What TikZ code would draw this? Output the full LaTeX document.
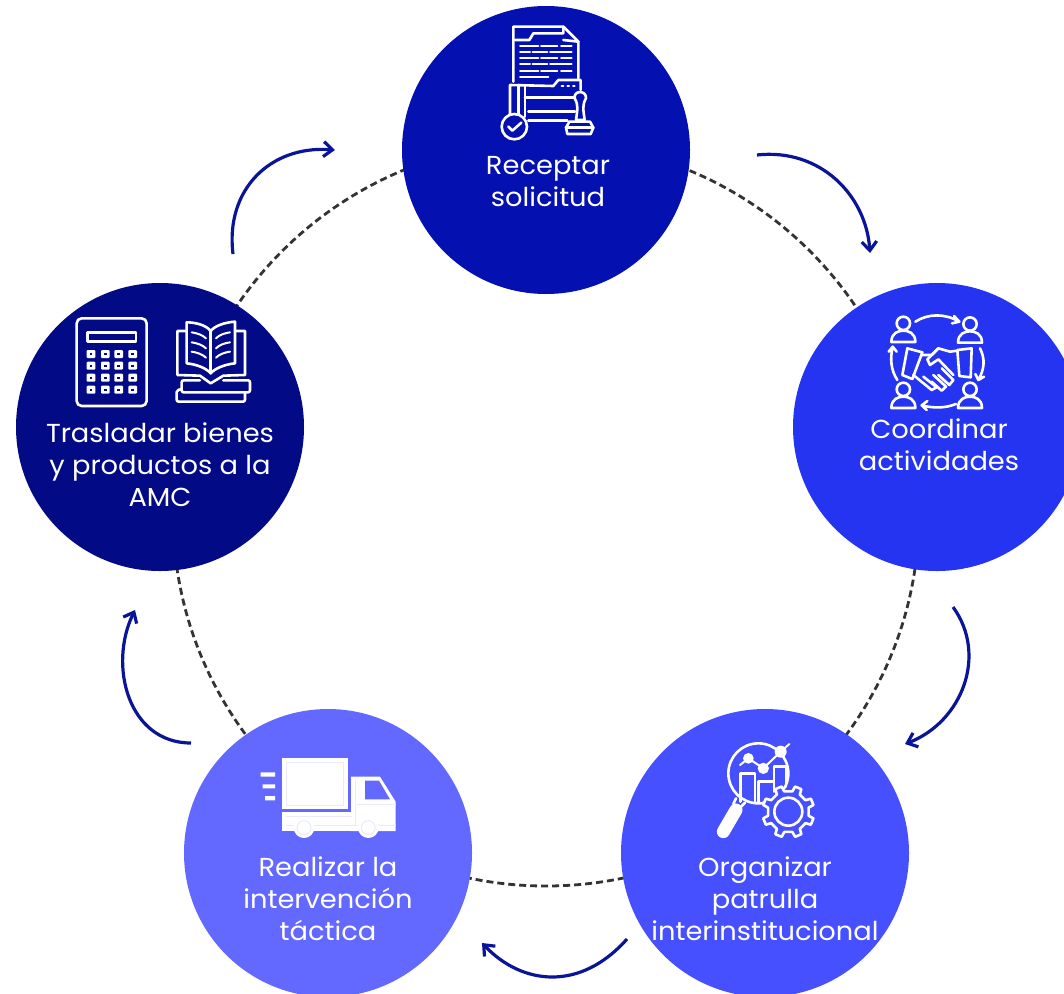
\documentclass[tikz,border=0pt]{standalone}
\usepackage{fontspec}
\setmainfont[FakeStretch=1.05]{Poppins}
\usetikzlibrary{arrows.meta}
\definecolor{cA}{HTML}{0410B0}
\definecolor{cB}{HTML}{2434F0}
\definecolor{cC}{HTML}{4650FF}
\definecolor{cD}{HTML}{6368FF}
\definecolor{cE}{HTML}{030A85}
\definecolor{cArrow}{HTML}{0A1496}
\definecolor{cDash}{HTML}{333333}
\tikzset{
  disc/.style={circle,minimum size=288pt,inner sep=0pt,draw=none},
  lbl/.style={text=white,align=center,font=\fontsize{26}{32}\selectfont},
  flow/.style={draw=cArrow,line width=3.2pt,-{Straight Barb[length=9pt,width=15pt,line width=3.2pt]}},
  ring/.style={draw=cDash,line width=2.8pt,dash pattern=on 7pt off 4pt},
  ico/.style={draw=white,line width=2.6pt,line join=round,line cap=round},
  thin ico/.style={draw=white,line width=2pt,line join=round,line cap=round},
  icon scale/.style={shift={#1},scale=1/3},
}
\begin{document}
\begin{tikzpicture}[x=1pt,y=-1pt]
\useasboundingbox (0,0) rectangle (1064,993);
\clip (0,0) rectangle (1064,993);
\coordinate (hub) at (546,514);
\draw[ring] (hub) ellipse[x radius=373,y radius=372];
\node[disc,fill=cA] (n1) at (546,150) {};
\node[disc,fill=cB] (n2) at (937,427) {};
\node[disc,fill=cC] (n3) at (765,853) {};
\node[disc,fill=cD] (n4) at (328,853) {};
\node[disc,fill=cE] (n5) at (160,427) {};
\node[lbl] (t1) at (548,182) {Receptar\\solicitud};
\node[lbl] (t2) at (939,445) {Coordinar\\actividades};
\node[lbl] (t3) at (765,899) {Organizar\\patrulla\\interinstitucional};
\node[lbl] (t4) at (328,899) {Realizar la\\intervención\\táctica};
\node[lbl] (t5) at (160,465) {Trasladar bienes\\y productos a la\\AMC};
% connectors
\coordinate (a1s) at (757,155); \coordinate (a1e) at (870,253);
\coordinate (a2s) at (953,607); \coordinate (a2e) at (905,744);
\coordinate (a3s) at (627,939); \coordinate (a3e) at (482,943);
\coordinate (a4s) at (191,743); \coordinate (a4e) at (135,610);
\coordinate (a5s) at (233,254); \coordinate (a5e) at (335,150);
\draw[flow] (a1s) .. controls (820,148) and (866,195) .. (a1e);
\draw[flow] (a2s) .. controls (988,655) and (962,722) .. (a2e);
\draw[flow] (a3s) .. controls (580,992) and (522,985) .. (a3e);
\draw[flow] (a4s) .. controls (128,743) and (108,665) .. (a4e);
\draw[flow] (a5s) .. controls (225,190) and (270,145) .. (a5e);
% icon 1: document and stamp
\begin{scope}[icon scale={(480,10)}]
\draw[ico] (100,215) -- (100,50) -- (250,50) -- (295,95) -- (295,205);
\draw[ico] (105,90) -- (148,90) -- (160,70) -- (250,70) -- (250,50) (250,90) -- (295,95);
\foreach \y in {108,145,183}{\draw[thin ico] (120,\y) -- (175,\y) (183,\y) -- (232,\y) (243,\y) -- (275,\y);}
\foreach \y in {127,163}{\draw[thin ico] (120,\y) -- (150,\y) (158,\y) -- (202,\y) (210,\y) -- (275,\y);}
\draw[thin ico] (120,202) -- (205,202);
\draw[ico] (90,325) -- (90,225) -- (220,228) -- (235,210) -- (302,210) -- (302,240);
\draw[ico] (115,225) -- (115,315) (135,225) -- (135,320);
\draw[ico] (135,262) -- (285,262) (145,305) -- (285,305) (145,332) -- (262,332);
\draw[thin ico] (245,229) -- (250,229) (262,229) -- (267,229) (279,229) -- (284,229);
\draw[ico,fill=cA] (103,350) circle[radius=38];
\draw[ico] (85,350) -- (97,362) -- (124,338);
\draw[ico,fill=cA] (288,330) .. controls (292,300) and (296,285) .. (284,265) .. controls (280,240) and (320,240) .. (318,265) .. controls (306,285) and (310,300) .. (314,330) -- cycle;
\draw[ico,fill=cA] (268,335) -- (330,335) -- (340,353) -- (332,372) -- (262,372) -- (258,353) -- cycle;
\draw[ico] (258,353) -- (340,353);
\end{scope}
% icon 2: handshake
\begin{scope}[icon scale={(870,300)}]
\foreach \x/\y in {100/70,300/72,100/268,300/268}{
  \draw[ico] (\x,\y) circle[radius=20];
  \draw[ico] (\x-36,\y+56) .. controls (\x-36,\y+28) and (\x-14,\y+22) .. (\x,\y+22) .. controls (\x+14,\y+22) and (\x+36,\y+28) .. (\x+36,\y+56) -- cycle;
}
\draw[ico] (136,65) .. controls (175,40) and (225,40) .. (268,65) (252,48) -- (268,65) -- (246,70);
\draw[ico] (330,145) .. controls (345,175) and (345,205) .. (325,240) (316,222) -- (325,240) -- (342,230);
\draw[ico] (258,312) .. controls (225,325) and (190,325) .. (155,316) (172,303) -- (155,316) -- (170,330);
\draw[ico] (82,240) .. controls (62,210) and (60,175) .. (68,140) (56,155) -- (68,140) -- (80,155);
\draw[ico] (112,145) -- (157,157) -- (127,237) -- (97,225) -- cycle;
\draw[ico] (262,150) -- (305,145) -- (302,232) -- (268,228) -- cycle;
\draw[ico] (155,165) -- (185,165) -- (205,145) -- (240,155) -- (262,152);
\draw[ico] (205,145) -- (172,178) -- (180,195) -- (205,178) -- (250,225);
\draw[ico] (130,225) -- (185,270) -- (200,262) -- (160,230);
\draw[ico] (185,245) -- (215,272) -- (228,260) -- (190,225);
\draw[ico] (205,225) -- (238,255) -- (250,240) -- (215,205);
\end{scope}
% icon 3: magnifier and gear
\begin{scope}[icon scale={(700,730)}]
\draw[ico] (175,130) circle[radius=90];
\draw[ico] (122,215) -- (122,130) -- (165,130) -- (165,215) (175,215) -- (175,155) -- (222,155) -- (222,185) (222,155) -- (222,110) -- (258,110) -- (258,170);
\draw[thin ico] (120,105) -- (145,85) -- (190,115) -- (242,65) -- (268,42);
\fill[white] (145,85) circle[radius=16] (190,115) circle[radius=17] (242,65) circle[radius=18];
\draw[ico] (108,205) -- (100,222) -- (118,235) -- (135,218);
\draw[white,line width=13pt,line cap=round] (70,305) -- (108,240);
\begin{scope}[shift={(265,245)}]
\draw[ico,fill=cC] (11.25:62)
  \foreach \a in {0,45,...,315}{
    -- (\a+11.25:62) -- (\a+15:78) -- (\a+30:78) -- (\a+33.75:62)
  } -- cycle;
\draw[ico] (0,0) circle[radius=42];
\end{scope}
\end{scope}
% icon 4: truck
\begin{scope}[icon scale={(250,745)}]
\fill[white] (97,40) rectangle (293,193);
\fill[white] (97,202) rectangle (310,258);
\fill[white] (303,95) -- (390,95) -- (437,170) -- (437,258) -- (303,258) -- cycle;
\fill[cD] (345,107) -- (387,107) -- (420,163) -- (345,163) -- cycle;
\fill[white] (32,82) rectangle (75,95) (38,118) rectangle (75,130) (45,153) rectangle (75,166);
\draw[cD!14,line width=1pt] (108,52) rectangle (280,182);
\draw[cD!14,line width=1pt] (108,213) -- (305,213) (108,242) -- (135,242) (190,242) -- (325,242) (385,242) -- (437,242) (317,105) -- (317,240) (320,178) -- (437,178);
\foreach \x in {162,355}{
  \fill[white] (\x,248) circle[radius=31];
  \draw[cD!14,line width=1pt] (\x,248) circle[radius=21];
}
\end{scope}
% icon 5: calculator and book
\begin{scope}[icon scale={(60,305)}]
\draw[ico,rounded corners=5pt] (50,40) rectangle (260,303);
\draw[ico] (83,82) rectangle (228,110);
\foreach \x in {93,136,176,218}{\foreach \y in {147,182,218,254}{
  \fill[white,rounded corners=1pt] (\x-13,\y-12) rectangle (\x+13,\y+12);
  \fill[cE] (\x-4,\y-3) rectangle (\x+4,\y+3);
}}
\draw[ico] (380,175) -- (380,52) .. controls (410,52) and (440,62) .. (452,78) .. controls (465,62) and (495,52) .. (525,50) -- (525,175) .. controls (495,178) and (465,190) .. (452,205) .. controls (440,190) and (410,178) .. (380,175);
\draw[ico] (452,78) -- (452,205);
\draw[ico] (380,78) -- (352,78) -- (352,210) -- (420,212) -- (452,235) -- (490,212) -- (555,210) -- (555,78) -- (525,78);
\foreach \y in {82,112,140}{
  \draw[thin ico] (395,\y) .. controls (410,\y+2) and (428,\y+8) .. (438,\y+18);
  \draw[thin ico] (510,\y) .. controls (495,\y+2) and (477,\y+8) .. (468,\y+18);
}
\draw[ico,rounded corners=2pt] (420,226) -- (365,226) -- (365,262) -- (570,262) -- (570,226) -- (490,226);
\draw[ico,rounded corners=2pt] (365,253) -- (350,255) -- (350,290) -- (555,290) -- (555,262);
\end{scope}
\end{tikzpicture}
\end{document}
